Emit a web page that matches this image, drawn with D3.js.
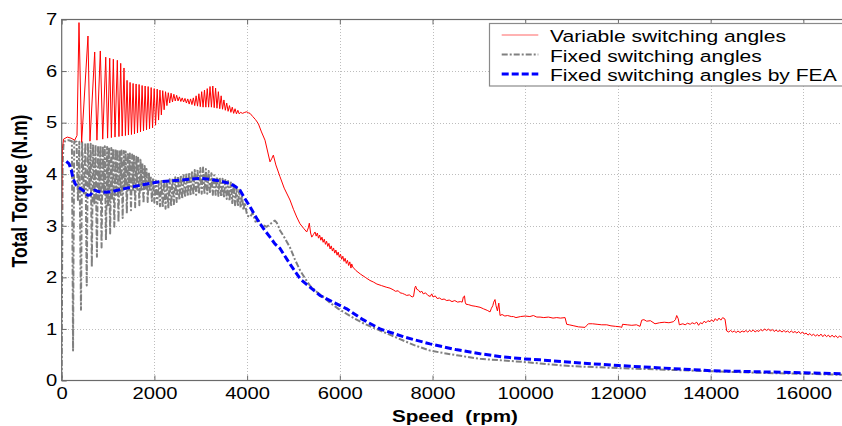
<!DOCTYPE html>
<html>
<head>
<meta charset="utf-8">
<script src="https://cdn.jsdelivr.net/npm/d3@7"></script>
<style>
  body { margin: 0; background: #ffffff; }
  svg text { font-family: "Liberation Sans", Arial, sans-serif; fill: #000; }
</style>
</head>
<body>
<svg id="chart" width="842" height="426"></svg>
<script>
// Axis ticks
const xTicks = [0, 2000, 4000, 6000, 8000, 10000, 12000, 14000, 16000];
const yTicks = [0, 1, 2, 3, 4, 5, 6, 7];
const xTitle = "Speed  (rpm)";
const yTitle = "Total Torque (N.m)";
const seriesNames = ["Variable switching angles", "Fixed switching angles", "Fixed switching angles by FEA"];

// Total torque [speed rpm, torque N.m] — variable switching angles (simulation)
const variableAngles = [
  [0,3.3],[15,4.5],[40,4.68],[120,4.72],[200,4.7],[280,4.66],[330,4.75],
  [373,6.94],[430,4.62],[567,6.68],[610,4.64],[712,6.37],[760,4.66],[833,6.39],[885,4.68],
  [950,6.27],[990,4.7],[1036,6.25],[1072,4.71],[1114,6.23],[1150,4.72],[1200,6.21],[1235,4.73],
  [1273,6.15],[1305,4.74],[1344,6.06],[1375,4.75],[1410,5.82],[1440,4.76],[1475,5.78],[1505,4.77],
  [1540,5.76],[1570,4.78],[1605,5.75],[1635,4.8],[1670,5.74],[1700,4.82],[1735,5.72],[1765,4.84],
  [1800,5.71],[1830,4.86],[1865,5.7],[1895,4.88],[1930,5.68],[1960,4.9],[1995,5.66],[2025,4.95],
  [2060,5.65],[2090,5.05],[2120,5.63],[2150,5.15],[2180,5.62],[2210,5.25],[2240,5.6],[2270,5.33],
  [2300,5.58],[2330,5.38],[2360,5.57],[2390,5.4],[2420,5.55],[2450,5.42],[2480,5.53],[2510,5.42],
  [2540,5.5],[2570,5.41],[2600,5.48],[2630,5.4],[2660,5.47],[2690,5.38],[2720,5.46],[2750,5.36],
  [2780,5.46],[2810,5.35],[2840,5.48],[2870,5.33],[2900,5.52],[2930,5.32],[2960,5.56],[2990,5.31],
  [3020,5.6],[3050,5.3],[3080,5.63],[3110,5.3],[3140,5.66],[3170,5.3],[3200,5.7],[3230,5.3],
  [3260,5.71],[3290,5.29],[3320,5.67],[3350,5.28],[3380,5.6],[3410,5.27],[3440,5.52],[3470,5.26],
  [3500,5.44],[3530,5.24],[3560,5.38],[3590,5.22],[3620,5.33],[3650,5.2],[3680,5.3],[3710,5.18],
  [3740,5.27],[3770,5.17],[3800,5.24],[3830,5.17],[3860,5.2],[3900,5.18],
  [3950,5.2],[3991,5.21],[4030,5.19],[4063,5.18],[4120,5.12],[4180,5.06],[4242,4.98],[4310,4.82],
  [4386,4.66],[4440,4.45],[4494,4.24],[4530,4.3],[4566,4.37],[4620,4.18],[4710,3.95],[4800,3.73],
  [4925,3.5],[5000,3.32],[5070,3.17],[5140,3.04],[5220,2.95],[5286,2.88],[5320,2.96],[5342,3.05],
  [5370,2.86],[5395,2.78],[5430,2.83],
  [5465,2.88],[5490,2.80],[5515,2.86],[5540,2.76],[5565,2.82],[5590,2.72],[5615,2.78],[5640,2.68],
  [5665,2.74],[5690,2.64],[5715,2.70],[5740,2.60],[5765,2.66],[5790,2.55],[5815,2.61],[5840,2.51],
  [5865,2.57],[5890,2.47],[5915,2.53],[5940,2.43],[5965,2.49],[5990,2.39],[6015,2.45],[6040,2.35],
  [6065,2.41],[6090,2.31],[6115,2.37],[6140,2.27],[6165,2.33],[6190,2.23],[6215,2.30],[6240,2.18],
  [6257,2.26],[6280,2.2],
  [6350,2.13],[6450,2.06],[6550,2.0],[6650,1.94],[6723,1.91],[6800,1.87],[6900,1.84],[7000,1.81],
  [7083,1.79],[7150,1.76],[7200,1.73],[7260,1.74],[7300,1.7],[7350,1.69],[7400,1.67],[7443,1.65],
  [7500,1.66],[7560,1.62],[7590,1.63],[7620,1.8],[7636,1.83],[7660,1.77],[7700,1.75],[7730,1.71],
  [7770,1.73],[7800,1.68],[7850,1.70],[7900,1.65],[7950,1.63],[7983,1.68],[8010,1.62],[8060,1.64],
  [8100,1.59],[8150,1.6],[8200,1.57],[8250,1.58],[8306,1.55],[8360,1.56],[8420,1.53],[8480,1.55],
  [8540,1.52],[8600,1.53],[8640,1.52],[8665,1.62],[8690,1.64],[8705,1.52],[8722,1.48],[8780,1.47],
  [8850,1.45],[8920,1.44],[9025,1.42],[9100,1.39],[9180,1.36],[9241,1.33],[9270,1.4],[9300,1.45],
  [9320,1.52],[9348,1.57],[9370,1.45],[9400,1.35],[9430,1.5],[9457,1.26],[9500,1.28],[9560,1.25],
  [9620,1.26],[9700,1.24],[9745,1.24],[9800,1.22],[9900,1.24],[10000,1.25],[10100,1.24],[10175,1.26],
  [10250,1.23],[10320,1.23],[10400,1.22],[10500,1.23],[10600,1.21],[10680,1.22],[10760,1.21],[10859,1.22],
  [10895,1.09],[10950,1.08],[11050,1.06],[11150,1.04],[11290,1.03],[11320,1.06],[11362,1.1],[11450,1.1],
  [11550,1.09],[11650,1.08],[11759,1.08],[11850,1.06],[11950,1.05],[12050,1.04],[12082,1.03],[12100,1.09],
  [12200,1.08],[12300,1.07],[12400,1.08],[12477,1.05],[12513,1.17],[12560,1.18],[12620,1.15],[12700,1.16],
  [12800,1.1],[12900,1.12],[13000,1.13],[13100,1.12],[13196,1.14],[13240,1.18],[13268,1.26],[13300,1.2],
  [13325,1.08],[13400,1.1],[13450,1.08],[13500,1.11],[13560,1.09],[13600,1.12],[13650,1.1],[13700,1.13],
  [13740,1.07],[13780,1.12],[13820,1.1],[13860,1.15],[13900,1.12],[13940,1.16],[13987,1.14],[14020,1.18],
  [14060,1.14],[14100,1.2],[14140,1.16],[14180,1.21],[14220,1.17],[14260,1.22],[14310,1.19],
  [14347,0.96],[14390,0.94],[14430,0.97],[14470,0.94],[14510,0.96],[14550,0.93],[14590,0.96],[14634,0.93],
  [14680,0.96],[14720,0.94],[14760,0.97],[14800,0.94],[14840,0.97],[14880,0.95],[14920,0.98],[14960,0.94],
  [15000,0.97],[15040,0.95],[15080,0.99],[15120,0.96],[15160,1.0],[15210,0.97],[15250,1.0],[15290,0.96],
  [15330,0.99],[15370,0.95],[15410,0.98],[15450,0.95],[15497,0.97],[15540,0.94],[15580,0.97],[15620,0.94],
  [15660,0.96],[15700,0.93],[15740,0.96],[15780,0.93],[15820,0.95],[15860,0.92],[15900,0.95],[15940,0.91],
  [15980,0.94],[16020,0.9],[16060,0.92],[16100,0.88],[16140,0.91],[16180,0.87],[16220,0.9],[16260,0.86],
  [16300,0.89],[16340,0.86],[16380,0.9],[16420,0.85],[16460,0.89],[16500,0.85],[16540,0.88],[16580,0.84],
  [16620,0.88],[16660,0.84],[16700,0.87],[16740,0.83],[16780,0.86],[16830,0.84],[16880,0.86],[16940,0.83],
  [17000,0.85]
];

// Total torque — fixed switching angles (simulation)
const fixedAngles = [
  [0,0.05],[8,2.0],[20,4.2],[40,4.6],[80,4.65],[150,4.66],[220,4.64],[240,1.5],[245,0.58],[255,2.5],[270,4.64],
  [320,4.63],[350,3.5],[380,4.63],[416,1.37],[440,4.62],
  [480,3.6],[510,4.61],[540,1.84],[565,4.6],
  [600,3.7],[625,4.59],[650,2.2],[675,4.58],
  [705,3.4],[730,4.57],[760,2.4],[785,4.56],
  [810,3.5],[835,4.55],[860,2.58],[885,4.55],
  [910,3.6],[930,4.54],[955,2.72],[980,4.53],
  [1000,3.4],[1020,4.52],[1045,2.85],[1070,4.51],
  [1090,3.5],[1110,4.5],[1135,2.98],[1160,4.49],
  [1180,3.6],[1200,4.48],[1225,3.07],[1250,4.47],
  [1270,3.6],[1290,4.46],[1315,3.15],[1340,4.45],
  [1360,3.7],[1380,4.44],[1405,3.24],[1430,4.42],
  [1450,3.7],[1470,4.4],[1495,3.3],[1520,4.38],
  [1540,3.7],[1560,4.36],[1585,3.36],[1610,4.34],
  [1630,3.7],[1650,4.32],[1675,3.4],[1700,4.28],
  [1720,3.7],[1740,4.22],[1765,3.44],[1790,4.16],
  [1810,3.7],[1830,4.1],[1855,3.46],[1880,4.04],
  [1900,3.7],[1920,3.97],[1945,3.48],[1970,3.9],
  [2000,3.45],[2030,3.88],[2060,3.42],[2090,3.86],[2120,3.38],[2150,3.87],[2180,3.35],[2210,3.88],
  [2240,3.33],[2270,3.89],[2300,3.34],[2330,3.9],[2360,3.38],[2390,3.92],[2420,3.42],[2450,3.94],
  [2480,3.46],[2510,3.96],[2540,3.5],[2570,3.98],[2600,3.52],[2630,4.0],[2660,3.55],[2690,4.02],
  [2720,3.57],[2750,4.04],[2780,3.58],[2810,4.06],[2840,3.6],[2870,4.08],[2900,3.6],[2930,4.1],
  [2960,3.62],[2990,4.12],[3020,3.62],[3050,4.13],[3080,3.62],[3110,4.1],[3140,3.62],[3170,4.06],
  [3200,3.62],[3230,4.02],[3260,3.6],[3290,3.98],[3320,3.6],[3350,3.95],[3380,3.58],[3410,3.93],
  [3440,3.56],[3470,3.91],[3500,3.55],[3530,3.89],[3560,3.52],[3590,3.87],[3620,3.48],[3650,3.84],
  [3680,3.44],[3710,3.8],[3740,3.4],[3770,3.76],[3800,3.38],[3830,3.7],[3860,3.35],[3890,3.6],
  [3920,3.3],[3950,3.45],[4000,3.2],[4063,3.17],[4120,3.25],[4180,3.08],[4250,3.1],[4300,3.02],
  [4370,3.0],[4422,2.98],[4480,3.02],[4560,3.08],[4600,3.1],[4638,3.06],[4680,2.98],[4710,2.91],
  [4800,2.78],[4925,2.58],[5030,2.35],[5140,2.14],[5250,1.98],[5356,1.84],[5500,1.72],[5644,1.62],
  [5800,1.5],[5970,1.39],[6149,1.29],[6320,1.2],[6507,1.11],[6680,1.04],[6867,0.97],[7100,0.88],
  [7407,0.76],[7650,0.67],[7946,0.58],[8250,0.53],[8522,0.49],[9025,0.42],[9500,0.39],[9960,0.36],
  [10320,0.33],[10800,0.29],[11187,0.27],[12010,0.24],[13000,0.21],[14015,0.18],[15000,0.15],[16015,0.13],
  [16830,0.11],[17000,0.11]
];

// Total torque — fixed switching angles, finite element analysis
const fixedAnglesFEA = [
  [100,4.25],[160,4.2],[207,4.08],[244,3.92],[300,3.8],[352,3.75],[410,3.72],[460,3.69],[520,3.62],
  [567,3.59],[620,3.6],[670,3.66],[712,3.69],[770,3.67],[820,3.66],[950,3.65],[1070,3.66],[1200,3.69],
  [1359,3.72],[1550,3.76],[1718,3.79],[1905,3.82],[2078,3.85],[2337,3.87],[2600,3.89],[2984,3.92],
  [3200,3.9],[3344,3.88],[3500,3.85],[3631,3.82],[3750,3.76],[3847,3.69],[3950,3.53],[4063,3.37],
  [4170,3.2],[4278,3.04],[4390,2.9],[4494,2.78],[4600,2.65],[4710,2.56],[4930,2.25],[5145,1.97],
  [5356,1.81],[5570,1.65],[5789,1.55],[6149,1.39],[6500,1.18],[6867,1.0],[7400,0.84],[7946,0.71],
  [8500,0.6],[9025,0.52],[9500,0.46],[9960,0.42],[10320,0.4],[11187,0.34],[12010,0.29],[13000,0.24],
  [14015,0.19],[15000,0.17],[16015,0.15],[16830,0.13],[17000,0.13]
];

const svg = d3.select("#chart");
const stretch = 1.24;   // glyphs are drawn slightly wide

const x = d3.scaleLinear().domain([0, 17000]).range([61.7, 849.7]);
const y = d3.scaleLinear().domain([0, 7]).range([380.5, 19.5]);
const [x0, x1] = x.range();
const [yb, yt] = y.range();

// grid
const grid = svg.append("g").attr("stroke", "#bdbdbd").attr("stroke-width", 1)
  .attr("stroke-dasharray", "1,2").attr("shape-rendering", "crispEdges");
grid.selectAll(".gx").data(xTicks.slice(1)).join("line")
  .attr("x1", d => Math.round(x(d)) + 0.5).attr("x2", d => Math.round(x(d)) + 0.5)
  .attr("y1", yt).attr("y2", yb);
grid.selectAll(".gy").data(yTicks.slice(1, -1)).join("line")
  .attr("x1", x0).attr("x2", x1)
  .attr("y1", d => Math.round(y(d)) + 0.5).attr("y2", d => Math.round(y(d)) + 0.5);

// series
svg.append("clipPath").attr("id", "plotClip").append("rect")
  .attr("x", x0).attr("y", yt).attr("width", x1 - x0).attr("height", yb - yt);
const plot = svg.append("g").attr("clip-path", "url(#plotClip)");
const line = d3.line().x(d => x(d[0])).y(d => y(d[1]));

const styles = [
  { data: variableAngles, color: "#ff0000", width: 1, dash: null },
  { data: fixedAngles, color: "#808080", width: 2, dash: "6,2,2,2" },
  { data: fixedAnglesFEA, color: "#0000ff", width: 3, dash: "7,3" }
];
// draw fixed angles first, then variable, FEA on top
[1, 0, 2].forEach(i => {
  const s = styles[i];
  plot.append("path").datum(s.data)
    .attr("fill", "none").attr("stroke", s.color).attr("stroke-width", s.width)
    .attr("stroke-linejoin", "round")
    .attr("stroke-dasharray", s.dash)
    .attr("d", line);
});

// axes (ticks point inward)
const axisColor = "#6a6a6a";
const xAxis = svg.append("g").attr("transform", `translate(0,${yb})`)
  .call(d3.axisBottom(x).tickValues(xTicks).tickSizeInner(-5).tickSizeOuter(0).tickPadding(7).tickFormat(d3.format("d")));
const xAxisTop = svg.append("g").attr("transform", `translate(0,${yt})`)
  .call(d3.axisTop(x).tickValues(xTicks).tickSizeInner(-5).tickSizeOuter(0).tickFormat(""));
const yAxis = svg.append("g").attr("transform", `translate(${x0},0)`)
  .call(d3.axisLeft(y).tickValues(yTicks).tickSizeInner(-5).tickSizeOuter(0).tickPadding(3.5).tickFormat(d3.format("d")));
[xAxis, xAxisTop, yAxis].forEach(a => {
  a.select(".domain").remove();
  a.selectAll(".tick line").attr("stroke", axisColor);
  a.selectAll("text").attr("font-size", 16.3).attr("font-family", '"Liberation Sans", Arial, sans-serif')
    .attr("fill", "#000").attr("transform", `scale(${stretch},1)`);
});

// frame
svg.append("rect").attr("x", x0).attr("y", yt).attr("width", x1 - x0).attr("height", yb - yt)
  .attr("fill", "none").attr("stroke", axisColor).attr("stroke-width", 1.2);

// axis titles
svg.append("text").attr("transform", `translate(455,421.5) scale(1.25,1)`)
  .attr("text-anchor", "middle").attr("font-weight", "bold").attr("font-size", 16.5)
  .style("white-space", "pre").text(xTitle);
svg.append("text").attr("transform", `translate(27,191) rotate(-90) scale(1,${stretch})`)
  .attr("text-anchor", "middle").attr("font-weight", "bold").attr("font-size", 17.5)
  .text(yTitle);

// legend
const legend = svg.append("g");
legend.append("rect").attr("x", 489.5).attr("y", 23.5).attr("width", 400).attr("height", 62.5)
  .attr("fill", "#ffffff").attr("stroke", "#8a8a8a").attr("stroke-width", 1.2);
const rowLineY = [35, 54.5, 74];
const rowTextY = [41.7, 61.5, 81.3];
seriesNames.forEach((name, i) => {
  const s = styles[i];
  legend.append("line").attr("x1", 501.7).attr("x2", 538.3).attr("y1", rowLineY[i]).attr("y2", rowLineY[i])
    .attr("stroke", s.color).attr("stroke-width", s.width).attr("stroke-dasharray", s.dash)
    .attr("opacity", i === 0 ? 0.6 : 1);
  legend.append("text").attr("transform", `translate(550,${rowTextY[i]}) scale(${stretch},1)`)
    .attr("font-size", 17).text(name);
});
</script>
</body>
</html>
